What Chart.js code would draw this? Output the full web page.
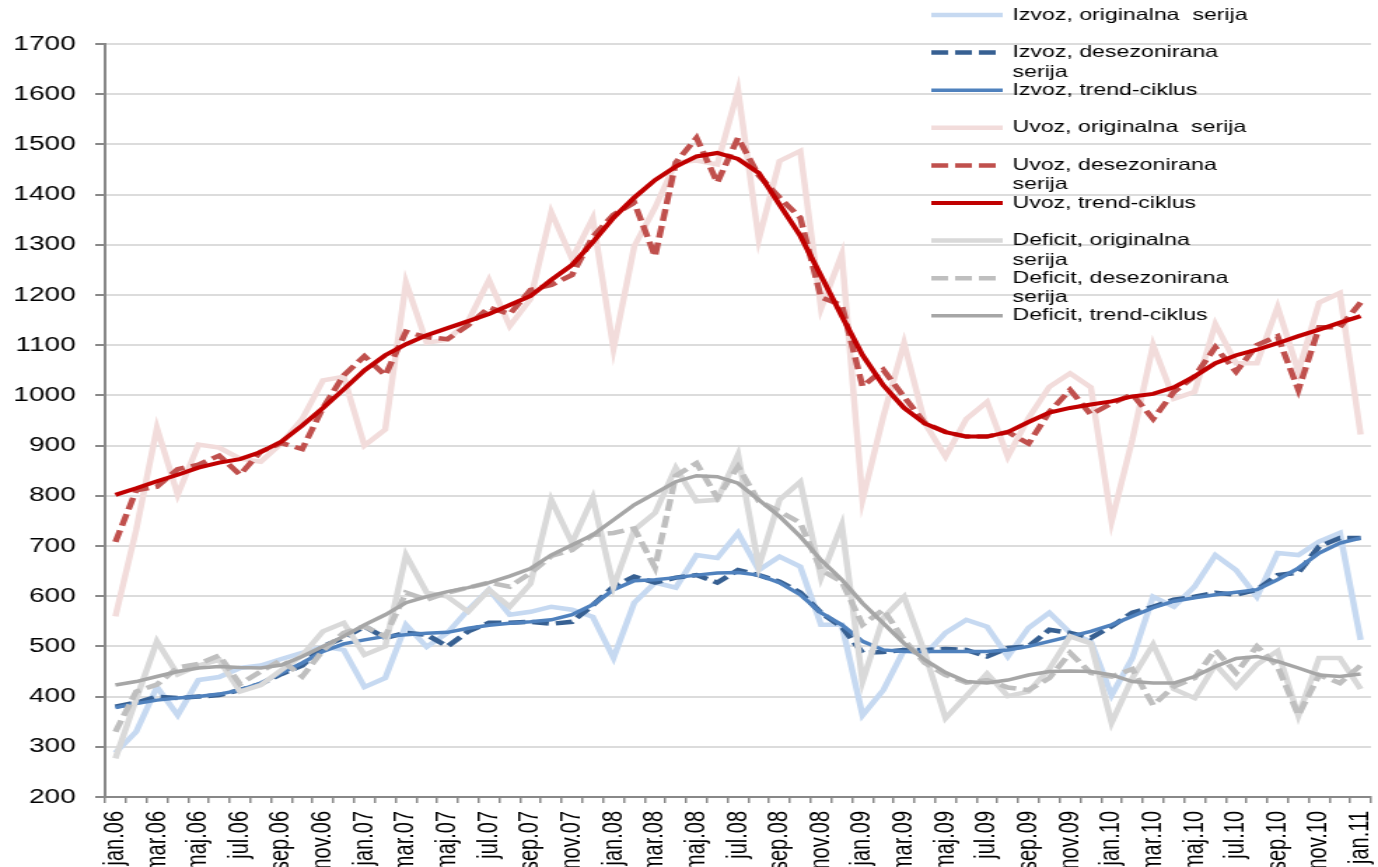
<!DOCTYPE html>
<html>
<head>
<meta charset="utf-8">
<script src="https://cdn.jsdelivr.net/npm/chart.js@4.4.1/dist/chart.umd.min.js"></script>
<style>
  html, body { margin: 0; padding: 0; background: #fff; overflow: hidden; }
  /* the reference is stretched horizontally, so the canvas is too */
  #tradeChart { display: block; width: 1378px !important; height: 867px !important; }
</style>
</head>
<body>
<canvas id="tradeChart" width="984" height="867" style="width:1378px;height:867px"></canvas>
<script>
const months = [
  'jan.06','feb.06','mar.06','apr.06','maj.06','jun.06','jul.06','avg.06','sep.06','okt.06','nov.06','dec.06',
  'jan.07','feb.07','mar.07','apr.07','maj.07','jun.07','jul.07','avg.07','sep.07','okt.07','nov.07','dec.07',
  'jan.08','feb.08','mar.08','apr.08','maj.08','jun.08','jul.08','avg.08','sep.08','okt.08','nov.08','dec.08',
  'jan.09','feb.09','mar.09','apr.09','maj.09','jun.09','jul.09','avg.09','sep.09','okt.09','nov.09','dec.09',
  'jan.10','feb.10','mar.10','apr.10','maj.10','jun.10','jul.10','avg.10','sep.10','okt.10','nov.10','dec.10',
  'jan.11'
];

const izvozOrig = [288, 330, 419, 363, 433, 439, 457, 462, 475, 487, 499, 493, 419, 437, 543, 499, 527, 573, 613, 563,
  569, 579, 573, 559, 477, 587, 627, 617, 682, 676, 726, 652, 679, 659, 543, 543, 363, 413, 493, 483,
  527, 553, 539, 480, 537, 567, 527, 510, 403, 477, 599, 579, 619, 682, 652, 599, 686, 682, 709, 726, 513];
const izvozDesez = [380, 388, 400, 397, 400, 403, 413, 425, 445, 462, 500, 517, 540, 517, 527, 523, 500, 530, 547, 547,
  549, 545, 549, 582, 619, 639, 627, 637, 642, 627, 652, 642, 629, 607, 567, 539, 487, 489, 493, 493,
  495, 493, 480, 497, 500, 533, 527, 517, 540, 567, 579, 593, 599, 607, 603, 613, 642, 647, 699, 716, 716];
const izvozTrend = [378, 386, 393, 397, 400, 405, 413, 427, 447, 467, 490, 505, 513, 520, 523, 526, 528, 536, 542, 546,
  549, 553, 563, 583, 613, 631, 633, 637, 642, 646, 647, 642, 627, 603, 567, 543, 510, 493, 490, 490,
  490, 490, 490, 493, 500, 510, 520, 530, 543, 560, 577, 590, 597, 603, 608, 613, 633, 656, 686, 706, 716];

const uvozOrig = [560, 732, 935, 802, 902, 896, 874, 868, 905, 953, 1030, 1037, 900, 932, 1225, 1105, 1111, 1148, 1230, 1138,
  1192, 1365, 1272, 1353, 1093, 1297, 1374, 1464, 1468, 1460, 1608, 1311, 1467, 1487, 1173, 1281, 792, 958, 1104, 945,
  878, 953, 987, 878, 955, 1017, 1044, 1016, 749, 912, 1100, 993, 1007, 1142, 1064, 1064, 1176, 1048, 1185, 1204, 922];
const uvozDesez = [708, 811, 818, 853, 862, 880, 842, 888, 905, 893, 975, 1040, 1078, 1040, 1127, 1116, 1112, 1140, 1175, 1162,
  1210, 1220, 1240, 1316, 1360, 1384, 1277, 1464, 1513, 1424, 1513, 1438, 1394, 1354, 1195, 1180, 1018, 1051, 997, 945,
  927, 918, 918, 927, 904, 967, 1011, 962, 984, 1002, 953, 1007, 1038, 1096, 1047, 1100, 1118, 1011, 1136, 1136, 1185];
const uvozTrend = [802, 815, 829, 842, 856, 866, 873, 887, 908, 940, 975, 1012, 1050, 1080, 1102, 1120, 1134, 1148, 1162, 1180,
  1198, 1230, 1260, 1305, 1354, 1394, 1429, 1456, 1476, 1483, 1471, 1443, 1380, 1318, 1238, 1158, 1080, 1020, 975, 944,
  927, 918, 918, 927, 947, 966, 975, 982, 988, 998, 1003, 1016, 1038, 1064, 1080, 1091, 1104, 1118, 1131, 1145, 1158];

const deficitOrig = [277, 395, 510, 444, 462, 473, 410, 423, 453, 482, 530, 547, 483, 500, 682, 607, 599, 569, 613, 579,
  625, 792, 706, 796, 619, 732, 766, 856, 789, 792, 882, 659, 792, 828, 637, 742, 430, 557, 599, 487,
  357, 401, 446, 401, 410, 455, 520, 506, 348, 437, 504, 415, 397, 464, 419, 464, 491, 362, 477, 477, 415];
const deficitDesez = [330, 410, 424, 458, 465, 482, 425, 450, 473, 440, 492, 527, 540, 520, 607, 593, 607, 617, 627, 619,
  646, 680, 692, 722, 726, 735, 657, 840, 865, 796, 858, 789, 769, 746, 652, 629, 543, 573, 513, 467,
  443, 428, 433, 418, 413, 437, 487, 447, 440, 455, 383, 420, 437, 493, 447, 500, 460, 363, 443, 427, 462];
const deficitTrend = [423, 430, 440, 450, 457, 460, 458, 457, 463, 480, 500, 520, 543, 563, 587, 599, 609, 617, 627, 640,
  655, 682, 702, 722, 752, 782, 805, 828, 840, 838, 825, 792, 759, 719, 672, 633, 586, 546, 506, 473,
  448, 430, 427, 433, 443, 450, 451, 450, 443, 430, 427, 427, 440, 460, 476, 480, 470, 457, 443, 440, 445];

const seriesNames = [
  'Izvoz, originalna  serija', 'Izvoz, desezonirana\nserija', 'Izvoz, trend-ciklus',
  'Uvoz, originalna  serija', 'Uvoz, desezonirana\nserija', 'Uvoz, trend-ciklus',
  'Deficit, originalna\nserija', 'Deficit, desezonirana\nserija', 'Deficit, trend-ciklus'
];

const FONT = '"Liberation Sans", Arial, sans-serif';

function line(i, data, color, width, dash) {
  return {
    label: seriesNames[i].replace('\n', ' '),
    data: data,
    borderColor: color,
    backgroundColor: color,
    borderWidth: width,
    borderDash: dash || [],
    pointRadius: 0,
    tension: 0,
    fill: false,
    order: 9 - i
  };
}

// legend drawn at the right, partly over the plot like in the original
const sideLegend = {
  id: 'sideLegend',
  afterDraw(chart) {
    const ctx = chart.ctx;
    ctx.save();
    ctx.font = '16.5px ' + FONT;
    ctx.textBaseline = 'middle';
    ctx.fillStyle = '#000';
    chart.data.datasets.forEach((ds, i) => {
      const y = 15 + 37.6 * i;
      ctx.strokeStyle = ds.borderColor;
      ctx.lineWidth = ds.borderWidth;
      ctx.setLineDash(ds.borderDash);
      ctx.beginPath();
      ctx.moveTo(665, y);
      ctx.lineTo(716, y);
      ctx.stroke();
      seriesNames[i].split('\n').forEach((t, k) => ctx.fillText(t, 723, y + k * 19.5));
    });
    ctx.restore();
  }
};

new Chart(document.getElementById('tradeChart'), {
  type: 'line',
  data: {
    labels: months,
    datasets: [
      line(0, izvozOrig, '#c6d9f1', 4.5),
      line(1, izvozDesez, '#376092', 4.5, [12, 5]),
      line(2, izvozTrend, '#4f81bd', 3.5),
      line(3, uvozOrig, '#f2dcdb', 4.5),
      line(4, uvozDesez, '#c0504d', 4.5, [12, 5]),
      line(5, uvozTrend, '#c00000', 4),
      line(6, deficitOrig, '#d9d9d9', 4.5),
      line(7, deficitDesez, '#bfbfbf', 4.5, [12, 5]),
      line(8, deficitTrend, '#a6a6a6', 3.5)
    ]
  },
  options: {
    responsive: false,
    animation: false,
    layout: { padding: { top: 44, right: 5, left: 0, bottom: 0 } },
    plugins: {
      legend: { display: false },
      tooltip: { enabled: false }
    },
    scales: {
      x: {
        offset: true,
        grid: { offset: true, drawOnChartArea: false, tickLength: 6, tickColor: '#888', lineWidth: 1.5 },
        border: { color: '#888', width: 2 },
        ticks: {
          autoSkip: false,
          maxRotation: 90,
          minRotation: 90,
          padding: 8,
          color: '#000',
          font: { family: FONT, size: 20 },
          callback: function (v, i) { return i % 2 === 0 ? this.getLabelForValue(v) : ''; }
        },
        afterFit: (s) => { s.height = 70; s.paddingLeft = 0; s.paddingRight = 0; }
      },
      y: {
        min: 200,
        max: 1700,
        grid: { color: '#dcdcdc', lineWidth: 2, tickColor: '#888', tickLength: 7 },
        border: { color: '#888', width: 2 },
        ticks: {
          stepSize: 100,
          padding: 14,
          color: '#000',
          font: { family: FONT, size: 20 },
          callback: (v) => String(v)
        },
        afterFit: (s) => { s.width = 75; }
      }
    }
  },
  plugins: [sideLegend]
});
</script>
</body>
</html>
